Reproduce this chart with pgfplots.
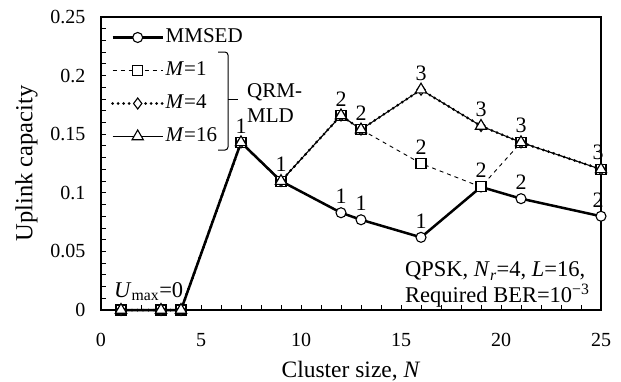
\documentclass[border=0pt]{standalone}
\usepackage{fontspec}
\setmainfont{Liberation Serif}
\usepackage{pgfplots}
\pgfplotsset{compat=1.18}
\begin{document}
\begin{tikzpicture}[font=\fontsize{22.5}{27}\selectfont]
\path[use as bounding box] (-101pt,-71pt) rectangle (520pt,310pt);
\begin{axis}[
  scale only axis, width=500pt, height=293pt,
  xmin=0, xmax=25, ymin=0, ymax=0.25,
  clip=false,
  xtick={0,5,10,15,20,25},
  ytick={0,0.05,0.1,0.15,0.2,0.25},
  minor x tick num=4, minor y tick num=4,
  tick align=inside, xtick pos=bottom, ytick pos=left,
  major tick length=5pt, minor tick length=5pt,
  tick style={line width=0.9pt, black},
  axis line style={line width=1.2pt},
  /pgf/number format/assume math mode=true,
  ticklabel style={font=\fontsize{20}{24}\selectfont},
  yticklabel style={/pgf/number format/fixed, /pgf/number format/precision=2, xshift=-12pt},
  xticklabel style={yshift=-20pt},
  xlabel={Cluster size, \textit{N}},
  ylabel={Uplink capacity},
  xlabel style={at={(axis description cs:0.5,-0.2287)}, anchor=base, font=\fontsize{23.5}{28}\selectfont},
  ylabel style={at={(axis description cs:-0.149,0.5)}, anchor=center, font=\fontsize{24.5}{29}\selectfont},
  mylegend/.style={legend image code/.code={\draw[mark repeat=2,mark phase=2] plot coordinates {(0pt,0pt) (25pt,0pt) (50pt,0pt)};}},
  every axis plot post/.append style={mylegend},
  legend style={draw=none, fill=none, at={(0.02,0.97)}, anchor=north west,
    inner sep=0pt, row sep=10pt, font=\fontsize{21}{25}\selectfont,
    nodes={inner sep=1.5pt, text height=15pt, text depth=5pt}},
  legend cell align=left,
]
\addplot[line width=2.5pt, mark=*, mark size=5pt, mark options={solid, fill=white, line width=1.1pt}]
coordinates {(1,0) (3,0) (4,0) (7,0.143) (9,0.110) (12,0.083) (13,0.077) (16,0.062) (19,0.105) (21,0.095) (25,0.080)};
\addlegendentry{MMSED}
\addplot[line width=0.9pt, dash pattern=on 4pt off 4pt, mark=square*, mark size=5pt, mark options={solid, fill=white, line width=1.1pt}]
coordinates {(1,0) (3,0) (4,0) (7,0.143) (9,0.110) (12,0.166) (13,0.154) (16,0.125) (19,0.105) (21,0.143) (25,0.120)};
\addlegendentry{\textit{M}=1}
\addplot[line width=3pt, dash pattern=on 0pt off 5.5pt, line cap=round, mark=diamond*, mark size=5.5pt, mark options={solid, fill=white, line width=1.1pt}]
coordinates {(1,0) (3,0) (4,0) (7,0.143) (9,0.110) (12,0.166) (13,0.154) (16,0.188) (19,0.157) (21,0.143) (25,0.120)};
\addlegendentry{\textit{M}=4}
\addplot[line width=1pt, mark=triangle*, mark size=6.5pt, mark options={solid, fill=white, line width=1.1pt}]
coordinates {(1,0) (3,0) (4,0) (7,0.143) (9,0.110) (12,0.166) (13,0.154) (16,0.188) (19,0.157) (21,0.143) (25,0.120)};
\addlegendentry{\textit{M}=16}
\addplot[draw=none, mark=none, forget plot, nodes near coords, point meta=explicit symbolic,
  every node near coord/.style={anchor=south, inner sep=0pt, yshift=9pt, font=\fontsize{22}{26}\selectfont}]
table[meta=label] {
x y label
7 0.143 1
9 0.110 1
12 0.166 2
13 0.154 2
16 0.188 3
16 0.125 2
19 0.157 3
19 0.105 2
21 0.143 3
24.85 0.120 3
12 0.083 1
13 0.077 1
16 0.062 1
21 0.095 2
24.85 0.080 2
};
\draw[line width=1pt, rounded corners=3pt] (axis cs:5.85,0.2201) -- (axis cs:6.35,0.2201) -- (axis cs:6.35,0.1365) -- (axis cs:5.85,0.1365);
\draw[line width=1pt] (axis cs:6.35,0.1792) -- (axis cs:6.85,0.1792);
\node[anchor=base west, inner sep=0pt, font=\fontsize{21}{25}\selectfont] at (axis cs:7.3,0.1817) {QRM-};
\node[anchor=base west, inner sep=0pt, font=\fontsize{21}{25}\selectfont] at (axis cs:7.3,0.1604) {MLD};
\node[anchor=base west, inner sep=0pt] at (axis cs:0.65,0.011) {\textit{U}\textsubscript{max}=0};
\node[anchor=base west, inner sep=0pt] at (axis cs:15.2,0.0282) {QPSK, \textit{N}\textsubscript{\textit{r}}=4, \textit{L}=16,};
\node[anchor=base west, inner sep=0pt] at (axis cs:15.2,0.0068) {Required BER=10\textsuperscript{−3}};
\end{axis}
\end{tikzpicture}
\end{document}
